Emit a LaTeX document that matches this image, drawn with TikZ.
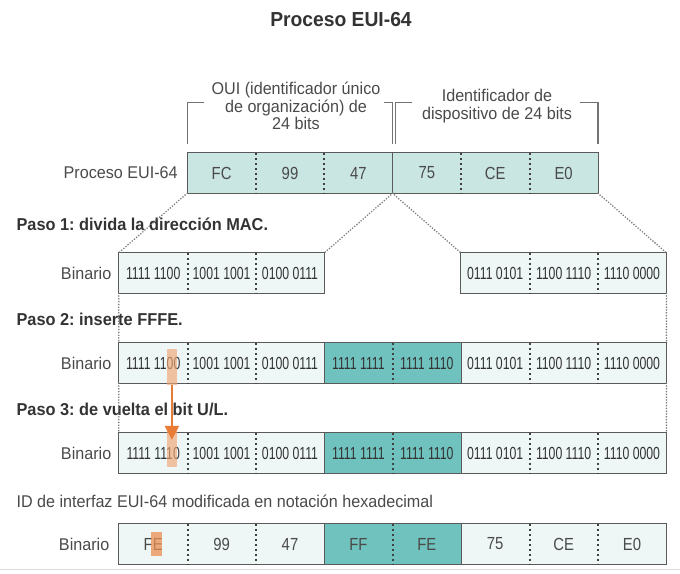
\documentclass[tikz,border=0pt]{standalone}
\usepackage{fontspec}
\setmainfont[FakeStretch=0.95]{Liberation Sans}
\newfontfamily\bitfont[FakeStretch=0.7]{Liberation Sans}
\newfontfamily\hexfont[FakeStretch=0.85]{Liberation Sans}
\usetikzlibrary{positioning, arrows.meta}
\definecolor{cellpale}{HTML}{EEF6F6}
\definecolor{cellmac}{HTML}{C9E6E3}
\definecolor{cellfffe}{HTML}{6FC2BD}
\definecolor{framegray}{HTML}{5A5A5A}
\definecolor{guidegray}{HTML}{7C7C7C}
\definecolor{txtgray}{HTML}{4A4A4A}
\definecolor{ulorange}{HTML}{E87B35}
\definecolor{ulpale}{HTML}{F2A673}
\frenchspacing
\tikzset{
    on grid,
    node distance=68.4pt,
    cell/.style={rectangle, minimum width=68.4pt, minimum height=40pt, inner sep=0pt, text=txtgray},
    mac/.style={cell, fill=cellmac, font=\hexfont\fontsize{17.5}{19}\selectfont},
    bits/.style={cell, fill=cellpale, font=\bitfont\fontsize{17.5}{19}\selectfont, text=black!80},
    hex/.style={cell, fill=cellpale, font=\hexfont\fontsize{17.5}{19}\selectfont},
    fffe/.style={fill=cellfffe},
    boxframe/.style={draw=framegray, line width=1pt},
    divider/.style={draw=black!75, line width=2pt, dash pattern=on 2pt off 3pt},
    guide/.style={draw=guidegray, line width=1.8pt, line cap=round, dash pattern=on 0pt off 2.8pt},
    bracket/.style={draw=black!55, line width=1.2pt},
    rowlabel/.style={font=\fontsize{17}{18}\selectfont, text=txtgray, anchor=east},
    steplabel/.style={font=\bfseries\fontsize{17.2}{18}\selectfont, text=black!80, anchor=west},
    ulmark/.style={rectangle, fill=ulpale, fill opacity=0.65, minimum width=10pt, minimum height=36pt, inner sep=0pt},
    ulflip/.style={draw=ulorange, line width=2.4pt, -{Triangle[length=14pt,width=14pt]}},
}

\begin{document}
\begin{tikzpicture}[x=1pt, y=-1pt]
    \useasboundingbox (0,0) rectangle (680,573);
    \node[font=\bfseries\fontsize{20.3}{22}\selectfont, text=black!80] (title) at (341,20) {Proceso EUI-64};

    % MAC address
        \node[mac] (t1) at (221.6,173) {FC};
        \node[mac, right=of t1] (t2) {99};
        \node[mac, right=of t2] (t3) {47};
        \node[mac, right=of t3] (t4) {75};
        \node[mac, right=of t4] (t5) {CE};
        \node[mac, right=of t5] (t6) {E0};
        \node[rowlabel] (lblt) at ([xshift=-6pt]t1.west) {Proceso EUI-64};

        \node[align=center, font=\fontsize{17}{17.5}\selectfont, text=txtgray] (oui) at (296,106) {OUI (identificador único\\de organización) de\\24 bits};
        \node[align=center, font=\fontsize{17}{17.5}\selectfont, text=txtgray] (devid) at (497,106) {Identificador de\\dispositivo de 24 bits};
    \draw[bracket] ([yshift=9pt]t1.north west) -- ++(0,-41) -- ++(17,0);
    \draw[bracket] ([yshift=9pt]t3.north east) -- ++(0,-41) -- ++(-9,0);
    \draw[bracket] ([xshift=3pt,yshift=9pt]t4.north west) -- ++(0,-41) -- ++(17,0);
    \draw[bracket] ([yshift=9pt]t6.north east) -- ++(0,-41) -- ++(-18,0);

    % step 1
        \node[bits] (b0) at (153.2,273) {1111 1100};
        \node[bits, right=of b0] (b1) {1001 1001};
        \node[bits, right=of b1] (b2) {0100 0111};
        \node[bits] (b5) at (495.2,273) {0111 0101};
        \node[bits, right=of b5] (b6) {1100 1110};
        \node[bits, right=of b6] (b7) {1110 0000};
        \node[rowlabel] (lblb) at ([xshift=-4pt]b0.west) {Binario};

    % step 2
        \node[bits] (c0) at (153.2,363) {1111 1100};
        \node[bits, right=of c0] (c1) {1001 1001};
        \node[bits, right=of c1] (c2) {0100 0111};
        \node[bits, fffe, right=of c2] (c3) {1111 1111};
        \node[bits, fffe, right=of c3] (c4) {1111 1110};
        \node[bits, right=of c4] (c5) {0111 0101};
        \node[bits, right=of c5] (c6) {1100 1110};
        \node[bits, right=of c6] (c7) {1110 0000};
        \node[rowlabel] (lblc) at ([xshift=-4pt]c0.west) {Binario};

    % step 3
        \node[bits] (d0) at (153.2,453) {1111 1110};
        \node[bits, right=of d0] (d1) {1001 1001};
        \node[bits, right=of d1] (d2) {0100 0111};
        \node[bits, fffe, right=of d2] (d3) {1111 1111};
        \node[bits, fffe, right=of d3] (d4) {1111 1110};
        \node[bits, right=of d4] (d5) {0111 0101};
        \node[bits, right=of d5] (d6) {1100 1110};
        \node[bits, right=of d6] (d7) {1110 0000};
        \node[rowlabel] (lbld) at ([xshift=-4pt]d0.west) {Binario};

    % modified EUI-64 in hex
        \node[hex] (e0) at (153.2,544) {FE};
        \node[hex, right=of e0] (e1) {99};
        \node[hex, right=of e1] (e2) {47};
        \node[hex, fffe, right=of e2] (e3) {FF};
        \node[hex, fffe, right=of e3] (e4) {FE};
        \node[hex, right=of e4] (e5) {75};
        \node[hex, right=of e5] (e6) {CE};
        \node[hex, right=of e6] (e7) {E0};
        \node[rowlabel] (lble) at ([xshift=-6pt]e0.west) {Binario};

        \node[steplabel] (paso1) at (13,224) {Paso 1: divida la dirección MAC.};
        \node[steplabel] (paso2) at (13,319) {Paso 2: inserte FFFE.};
        \node[steplabel] (paso3) at (13,409) {Paso 3: de vuelta el bit U/L.};
        \node[rowlabel, anchor=west] (hexnote) at (13,501) {ID de interfaz EUI-64 modificada en notación hexadecimal};

    % frames and dividers
    \draw[boxframe] (t1.north west) rectangle (t6.south east) (t3.north east) -- (t3.south east);
    \draw[boxframe] (b0.north west) rectangle (b2.south east) (b5.north west) rectangle (b7.south east);
    \draw[boxframe] (c0.north west) rectangle (c7.south east) (c3.north west) rectangle (c4.south east);
    \draw[boxframe] (d0.north west) rectangle (d7.south east) (d3.north west) rectangle (d4.south east);
    \draw[boxframe] (e0.north west) rectangle (e7.south east) (e3.north west) rectangle (e4.south east);
    \path[divider]
        (t1.north east) edge (t1.south east)
        (t2.north east) edge (t2.south east)
        (t4.north east) edge (t4.south east)
        (t5.north east) edge (t5.south east)
        (b0.north east) edge (b0.south east)
        (b1.north east) edge (b1.south east)
        (b5.north east) edge (b5.south east)
        (b6.north east) edge (b6.south east)
        (c0.north east) edge (c0.south east)
        (c1.north east) edge (c1.south east)
        (c3.north east) edge (c3.south east)
        (c5.north east) edge (c5.south east)
        (c6.north east) edge (c6.south east)
        (d0.north east) edge (d0.south east)
        (d1.north east) edge (d1.south east)
        (d3.north east) edge (d3.south east)
        (d5.north east) edge (d5.south east)
        (d6.north east) edge (d6.south east)
        (e0.north east) edge (e0.south east)
        (e1.north east) edge (e1.south east)
        (e3.north east) edge (e3.south east)
        (e5.north east) edge (e5.south east)
        (e6.north east) edge (e6.south east);

    \path[guide]
        (t1.south west) edge (b0.north west)
        (t3.south east) edge (b2.north east)
        (t4.south west) edge (b5.north west)
        (t6.south east) edge (b7.north east)
        (b0.south west) edge (c0.north west)
        (b7.south east) edge (c7.north east)
        (c0.south west) edge (d0.north west)
        (c7.south east) edge (d7.north east);

    % U/L bit
        \node[ulmark] (ul1) at ([xshift=18.7pt,yshift=-4pt]c0.center) {};
        \node[ulmark] (ul2) at ([xshift=18.7pt,yshift=4pt]d0.center) {};
        \node[ulmark, fill=ulorange!85, fill opacity=0.75, minimum width=11pt, minimum height=24pt] (ul3) at ([xshift=3.5pt]e0.center) {};
    \draw[ulflip] (ul1.south) -- ([yshift=-9pt]ul2.north);

    \draw[black!15, line width=1pt] (0,569) -- (680,569);
\end{tikzpicture}
\end{document}
